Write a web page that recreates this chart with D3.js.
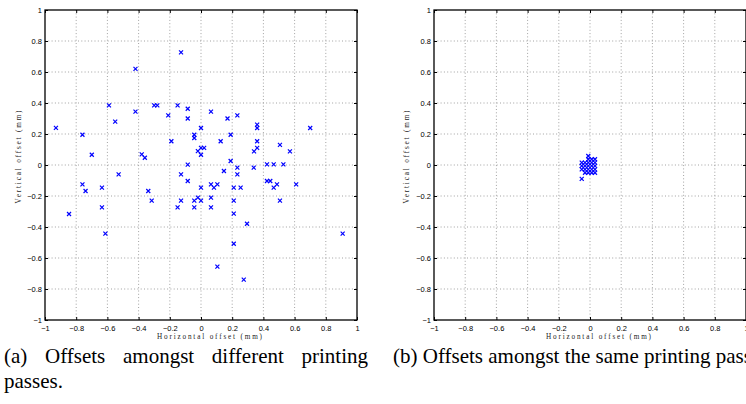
<!DOCTYPE html>
<html><head><meta charset="utf-8">
<script src="https://cdn.jsdelivr.net/npm/d3@7"></script>
<style>
html,body{margin:0;padding:0;background:#fff;overflow:hidden;width:746px;height:404px;}
svg{position:absolute;left:0;top:0;}
.cap{position:absolute;font-family:"Liberation Serif","Times New Roman",serif;font-size:21px;line-height:25px;color:#000;}
</style></head><body>
<svg id="chart" width="746" height="404"></svg>
<div class="cap" id="capA" style="left:4px;top:344px;width:364px;text-align:justify;"></div>
<div class="cap" id="capB" style="left:393px;top:344px;white-space:nowrap;"></div>
<script>
// ---- data ----
const tickValues = [-1, -0.8, -0.6, -0.4, -0.2, 0, 0.2, 0.4, 0.6, 0.8, 1];
const tickLabels = ["\u22121", "\u22120.8", "\u22120.6", "\u22120.4", "\u22120.2", "0", "0.2", "0.4", "0.6", "0.8", "1"];
const xLabel = "Horizontal offset (mm)";
const yLabel = "Vertical offset (mm)";
const captionA = "(a) Offsets amongst different printing passes.";
const captionB = "(b) Offsets amongst the same printing passes.";

// (a) different printing passes
const passX = [-0.93, -0.76, -0.70, -0.59, -0.55, -0.42, -0.42, -0.38, -0.36, -0.30,
  -0.28, -0.21, -0.19, -0.15, -0.128, -0.085, -0.085, -0.043, -0.043, -0.02,
  0.064, 0.17, 0.233, 0, 0.19, 0.36, 0.36, 0.70, 0.126, 0.36,
  0, 0.02, 0, 0.34, 0.36, 0.506, 0.57, 0.19, 0.233, 0.233,
  0.338, 0.147, 0.423, 0.466, 0.528, 0.423, 0.444, 0.487, 0.466, 0.61,
  0, 0.064, 0.105, 0.083, 0.21, 0.254, -0.043, -0.02, -0.043, 0,
  0.064, 0.064, 0.21, 0.506, 0.21, 0.295, 0.908, 0.21, 0.105, 0.274,
  -0.76, -0.74, -0.635, -0.635, -0.846, -0.613, -0.528, -0.338, -0.316, -0.128,
  -0.085, -0.085, -0.15, -0.128];
const passY = [0.24, 0.195, 0.066, 0.385, 0.28, 0.62, 0.344, 0.069, 0.047, 0.385,
  0.385, 0.32, 0.153, 0.385, 0.727, 0.363, 0.30, 0.195, 0.174, 0.09,
  0.344, 0.30, 0.32, 0.239, 0.195, 0.26, 0.239, 0.239, 0.153, 0.153,
  0.11, 0.11, 0.066, 0.088, 0.11, 0.13, 0.088, 0.026, -0.017, -0.06,
  -0.017, -0.039, 0.004, 0.004, 0.004, -0.103, -0.103, -0.125, -0.146, -0.125,
  -0.146, -0.125, -0.125, -0.146, -0.146, -0.146, -0.23, -0.21, -0.273, -0.23,
  -0.21, -0.273, -0.23, -0.23, -0.314, -0.379, -0.443, -0.508, -0.656, -0.74,
  -0.125, -0.168, -0.146, -0.273, -0.316, -0.443, -0.06, -0.168, -0.23, -0.06,
  0.002, -0.103, -0.273, -0.23];

// (b) same printing pass
const sameX = [-0.011,
  -0.011, 0.011, 0.032,
  -0.053, -0.032, -0.011, 0.011, 0.032,
  -0.053, -0.032, -0.011, 0.011, 0.032,
  -0.053, -0.032, -0.011, 0.011, 0.032,
  -0.032, -0.011, 0.011, 0.032,
  -0.053];
const sameY = [0.058,
  0.037, 0.037, 0.037,
  0.015, 0.015, 0.015, 0.015, 0.015,
  -0.006, -0.006, -0.006, -0.006, -0.006,
  -0.028, -0.028, -0.028, -0.028, -0.028,
  -0.05, -0.05, -0.05, -0.05,
  -0.09];

// ---- drawing ----
const svg = d3.select("#chart");
const fmt = d => tickLabels[tickValues.indexOf(d)];

function panel(x0, x1, y0, y1, xs, ys, ylabX) {
  const x = d3.scaleLinear().domain([-1, 1]).range([x0, x1]);
  const y = d3.scaleLinear().domain([-1, 1]).range([y1, y0]);
  const g = svg.append("g");
  const inner = tickValues.slice(1, -1);
  // grid
  g.append("g").selectAll("line").data(inner).join("line")
    .attr("x1", d => x(d)).attr("x2", d => x(d)).attr("y1", y0).attr("y2", y1)
    .attr("stroke", "#8a8a8a").attr("stroke-width", 0.8).attr("stroke-dasharray", "1,2.3");
  g.append("g").selectAll("line").data(inner).join("line")
    .attr("y1", d => y(d)).attr("y2", d => y(d)).attr("x1", x0).attr("x2", x1)
    .attr("stroke", "#8a8a8a").attr("stroke-width", 0.8).attr("stroke-dasharray", "1,2.3");
  // axes
  const styleAxis = a => {
    a.select(".domain").remove();
    a.selectAll("line").attr("stroke", "#000").attr("stroke-width", 1);
    a.selectAll("text").attr("font-family", "'Liberation Sans', Arial, sans-serif")
      .attr("font-size", "7.5px").attr("fill", "#000");
  };
  g.append("g").attr("transform", `translate(0,${y1})`)
    .call(d3.axisBottom(x).tickValues(tickValues).tickFormat(fmt).tickSizeInner(-3).tickSizeOuter(0).tickPadding(6)).call(styleAxis);
  g.append("g").attr("transform", `translate(${x0},0)`)
    .call(d3.axisLeft(y).tickValues(tickValues).tickFormat(fmt).tickSizeInner(-3).tickSizeOuter(0).tickPadding(3)).call(styleAxis);
  g.append("g").attr("transform", `translate(0,${y0})`)
    .call(d3.axisTop(x).tickValues(tickValues).tickFormat("").tickSizeInner(-3).tickSizeOuter(0)).call(styleAxis);
  g.append("g").attr("transform", `translate(${x1},0)`)
    .call(d3.axisRight(y).tickValues(tickValues).tickFormat("").tickSizeInner(-3).tickSizeOuter(0)).call(styleAxis);
  // box
  g.append("rect").attr("x", x0).attr("y", y0).attr("width", x1 - x0).attr("height", y1 - y0)
    .attr("fill", "none").attr("stroke", "#000").attr("stroke-width", 1.3);
  // markers
  const pts = xs.map((v, i) => [x(v), y(ys[i])]);
  const r = 2;
  g.append("g").selectAll("path").data(pts).join("path")
    .attr("d", p => `M${p[0]-r},${p[1]-r}L${p[0]+r},${p[1]+r}M${p[0]-r},${p[1]+r}L${p[0]+r},${p[1]-r}`)
    .attr("stroke", "#0000ff").attr("stroke-width", 1.2).attr("fill", "none");
  // labels
  g.append("text").attr("x", (x0 + x1) / 2 + 8.5).attr("y", 338.5)
    .attr("text-anchor", "middle").attr("font-family", "'Liberation Serif', serif").attr("font-size", "7.2px")
    .attr("textLength", 105).attr("lengthAdjust", "spacing").attr("fill", "#222").text(xLabel);
  g.append("text").attr("transform", `translate(${ylabX},157) rotate(-90)`)
    .attr("text-anchor", "middle").attr("font-family", "'Liberation Serif', serif").attr("font-size", "7.2px")
    .attr("textLength", 93).attr("lengthAdjust", "spacing").attr("fill", "#222").text(yLabel);
}

panel(45, 357, 10, 320, passX, passY, 20.5);
panel(434, 746, 10, 320, sameX, sameY, 409);

d3.select("#capA").text(captionA);
d3.select("#capB").text(captionB);
</script>
</body></html>
